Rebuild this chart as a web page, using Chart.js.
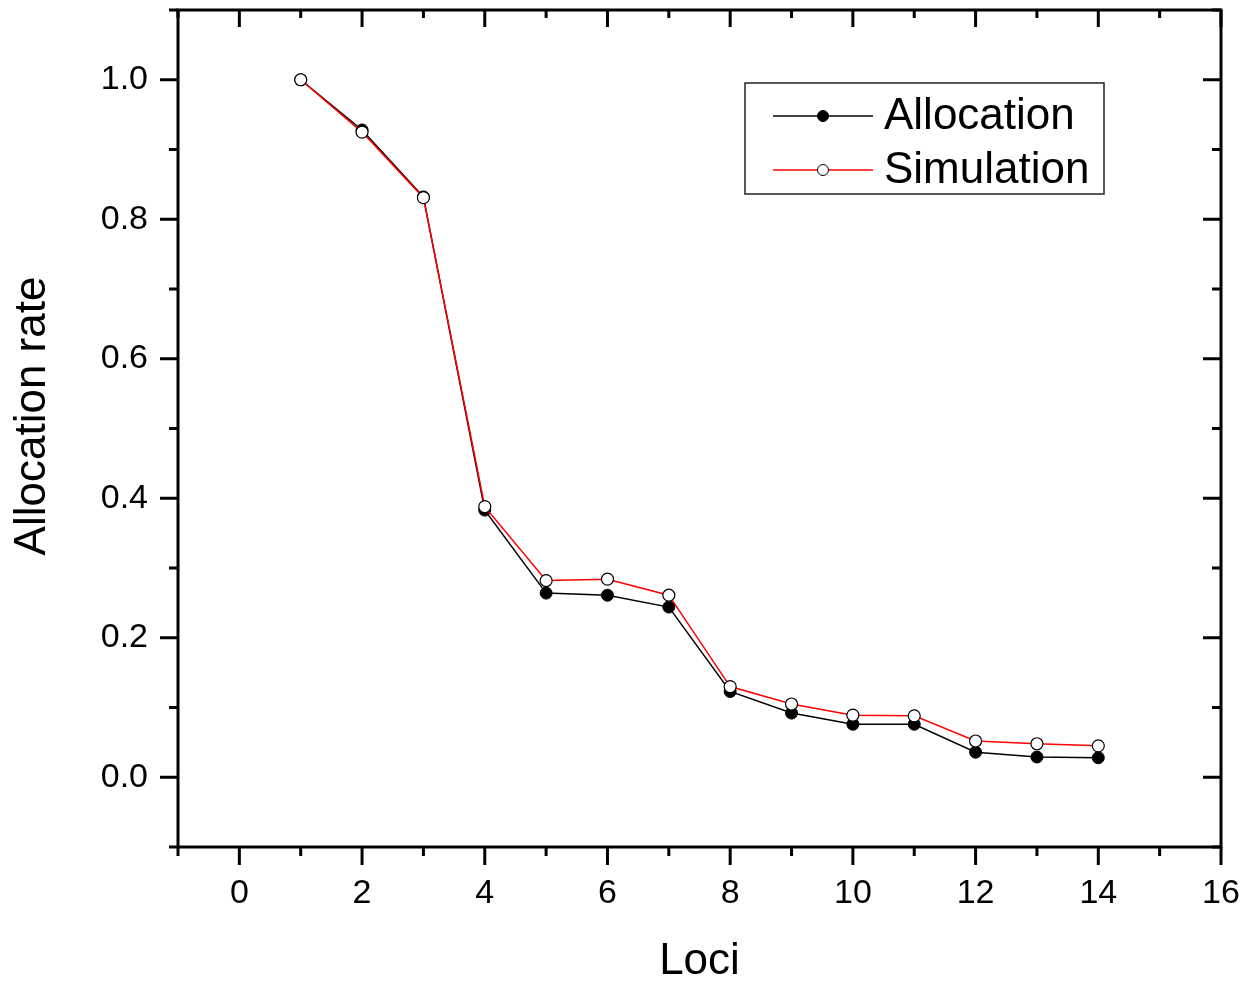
<!DOCTYPE html>
<html>
<head>
<meta charset="utf-8">
<script src="https://cdn.jsdelivr.net/npm/chart.js@4"></script>
<style>
  body { margin: 0; background: #fff; }
  canvas { display: block; }
</style>
</head>
<body>
<canvas id="myChart" width="1252" height="981"></canvas>
<script>
// data
const loci = [1, 2, 3, 4, 5, 6, 7, 8, 9, 10, 11, 12, 13, 14];
const allocation = [1.0, 0.928, 0.832, 0.383, 0.264, 0.261, 0.244, 0.123, 0.092, 0.076, 0.076, 0.036, 0.029, 0.028];
const simulation = [1.0, 0.925, 0.831, 0.388, 0.282, 0.284, 0.261, 0.130, 0.105, 0.089, 0.088, 0.052, 0.048, 0.045];

const FONT = "'Liberation Sans', Arial, sans-serif";

// frame + origin style ticks (outside on bottom/left, inside on top/right)
const frameTicks = {
    id: 'frameTicks',
    afterDraw(chart) {
        const ctx = chart.ctx;
        const a = chart.chartArea;
        const xs = chart.scales.x;
        const ys = chart.scales.y;
        ctx.save();
        ctx.strokeStyle = '#000';
        ctx.lineWidth = 3;
        ctx.lineCap = 'square';
        ctx.strokeRect(a.left, a.top, a.right - a.left, a.bottom - a.top);

        ctx.lineCap = 'butt';
        xs.ticks.forEach(t => {
            const major = Math.round(t.value) % 2 === 0;
            const px = xs.getPixelForValue(t.value);
            ctx.beginPath();
            ctx.moveTo(px, a.bottom);
            ctx.lineTo(px, a.bottom + (major ? 18 : 9));
            ctx.moveTo(px, a.top);
            ctx.lineTo(px, a.top + (major ? 17 : 8));
            ctx.stroke();
        });
        ys.ticks.forEach(t => {
            const major = Math.round(t.value * 10) % 2 === 0;
            const py = ys.getPixelForValue(t.value);
            ctx.beginPath();
            ctx.moveTo(a.left, py);
            ctx.lineTo(a.left - (major ? 18 : 9), py);
            ctx.moveTo(a.right, py);
            ctx.lineTo(a.right - (major ? 18 : 9), py);
            ctx.stroke();
        });

        // y title, sits a bit above the middle like the original
        ctx.fillStyle = '#000';
        ctx.font = '44px ' + FONT;
        ctx.textAlign = 'center';
        ctx.textBaseline = 'middle';
        ctx.translate(33, 416);
        ctx.rotate(-Math.PI / 2);
        ctx.fillText('Allocation rate', 0, 0);
        ctx.restore();
    }
};

// boxed legend inside the plot, top right
const boxLegend = {
    id: 'boxLegend',
    afterDraw(chart) {
        const ctx = chart.ctx;
        const box = { x: 745, y: 83, w: 359, h: 111 };
        ctx.save();
        ctx.strokeStyle = '#222';
        ctx.lineWidth = 1.5;
        ctx.strokeRect(box.x, box.y, box.w, box.h);

        const order = ['Allocation', 'Simulation'];
        order.forEach((name, i) => {
            const ds = chart.data.datasets.find(d => d.label === name);
            const cy = box.y + 33 + i * 54;
            ctx.strokeStyle = ds.borderColor;
            ctx.lineWidth = 1.5;
            ctx.beginPath();
            ctx.moveTo(773, cy);
            ctx.lineTo(873, cy);
            ctx.stroke();

            ctx.beginPath();
            ctx.arc(823, cy, 5.5, 0, Math.PI * 2);
            ctx.fillStyle = ds.pointBackgroundColor;
            ctx.fill();
            ctx.strokeStyle = ds.pointBorderColor;
            ctx.lineWidth = 1;
            ctx.stroke();

            ctx.fillStyle = '#000';
            ctx.font = '44px ' + FONT;
            ctx.textBaseline = 'middle';
            ctx.fillText(name, 884, cy + 1);
        });
        ctx.restore();
    }
};

let data = {
    datasets: [{
        label: 'Allocation',
        data: loci.map((l, i) => ({ x: l, y: allocation[i] })),
        borderColor: '#000',
        borderWidth: 1.5,
        pointBackgroundColor: '#000',
        pointBorderColor: '#000',
        pointBorderWidth: 1,
        pointRadius: 6,
        order: 1
    }, {
        label: 'Simulation',
        data: loci.map((l, i) => ({ x: l, y: simulation[i] })),
        borderColor: '#ff0000',
        borderWidth: 1.5,
        pointBackgroundColor: '#fff',
        pointBorderColor: '#000',
        pointBorderWidth: 1.2,
        pointRadius: 6,
        order: 0
    }]
};

let config = {
    type: 'line',
    data: data,
    plugins: [frameTicks, boxLegend],
    options: {
        responsive: false,
        animation: false,
        devicePixelRatio: 1,
        layout: { padding: { left: 0, right: 31, top: 10, bottom: 0 } },
        plugins: { legend: { display: false }, tooltip: { enabled: false } },
        scales: {
            x: {
                type: 'linear',
                min: -1,
                max: 16,
                grid: { display: false, drawTicks: false },
                border: { display: false },
                ticks: {
                    stepSize: 1,
                    autoSkip: false,
                    maxRotation: 0,
                    padding: 26,
                    color: '#000',
                    font: { family: FONT, size: 34 },
                    callback: v => (Math.round(v) % 2 === 0 ? String(Math.round(v)) : '')
                },
                title: {
                    display: true,
                    text: 'Loci',
                    color: '#000',
                    font: { family: FONT, size: 44, lineHeight: 1 },
                    padding: { top: 0, bottom: -3 }
                },
                afterFit: s => { s.height = 134; s.paddingLeft = 0; s.paddingRight = 0; }
            },
            y: {
                min: -0.1,
                max: 1.1,
                grid: { display: false, drawTicks: false },
                border: { display: false },
                ticks: {
                    stepSize: 0.1,
                    autoSkip: false,
                    padding: 30,
                    color: '#000',
                    font: { family: FONT, size: 34 },
                    callback: v => (Math.round(v * 10) % 2 === 0 ? v.toFixed(1) : '')
                },
                afterFit: s => { s.width = 178; s.paddingTop = 0; s.paddingBottom = 0; }
            }
        }
    }
};

const myChart = new Chart(document.getElementById('myChart'), config);
</script>
</body>
</html>
